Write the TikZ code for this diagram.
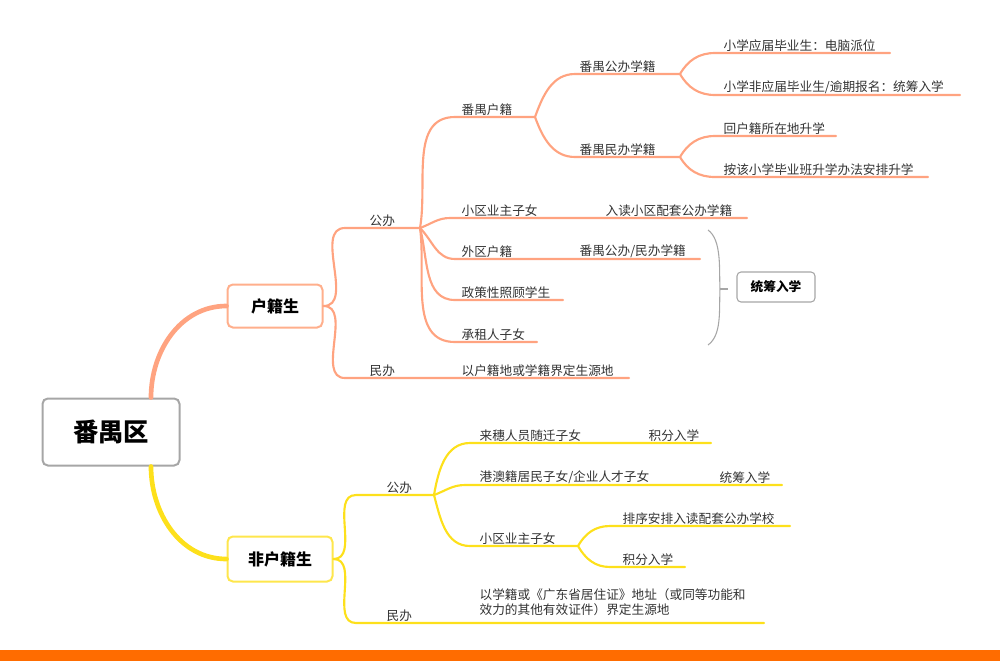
\documentclass[tikz,border=0pt]{standalone}
\usepackage{fontspec}
\setmainfont{Noto Sans CJK SC}
\begin{document}
\begin{tikzpicture}[x=0.75pt,y=-0.75pt,
  t/.style={anchor=south west,inner sep=1pt,font=\fontsize{9.5pt}{11pt}\selectfont,text=black!80},
  pk/.style={draw=red!45!orange!50!white,line width=1.6pt,line cap=round},
  yl/.style={draw=yellow!80!orange!90!white,line width=1.6pt,line cap=round},
  bx/.style={draw,rounded corners=4pt,line width=1.5pt,fill=white,font=\bfseries\fontsize{12pt}{14pt}\selectfont}]
\useasboundingbox (0,0) rectangle (1000,661);
\fill[orange!85!red] (0,650) rectangle (1000,661);
% root & level-1 nodes
\node[bx,draw=gray!70,minimum width=137*0.75pt,minimum height=67*0.75pt,font=\bfseries\fontsize{19pt}{22pt}\selectfont] (root) at (111,432) {番禺区};
\node[bx,draw=red!40!orange!45!white,minimum width=95*0.75pt,minimum height=43*0.75pt] (hj) at (275,306) {户籍生};
\node[bx,draw=yellow!80!orange!70!white,minimum width=105*0.75pt,minimum height=45*0.75pt] (fhj) at (280,559) {非户籍生};
\draw[pk,line width=3.5pt] (root.north)++(40,0) coordinate (r1) to[out=90,in=180] (hj.west);
\draw[yl,line width=3.5pt] (root.south)++(40,0) coordinate (r2) to[out=-90,in=180] (fhj.west);
% ---------- pink tree ----------
\coordinate (gbS) at (345,228); \coordinate (gbF) at (420,228);
\coordinate (mbS) at (345,378); \coordinate (mbE) at (629,378);
\draw[pk] (hj.east) to[out=0,in=180] (gbS) -- (gbF);
\draw[pk] (hj.east) to[out=0,in=180] (mbS) -- (mbE);
\node[t] (gb) at (368,228) {公办};
\node[t] (mb) at (368,378) {民办};
\node[t] (mbt) at (460,378) {以户籍地或学籍界定生源地};
% children of 公办
\coordinate (pyF) at (535,117);
\draw[pk] (gbF) to[out=80,in=180] (455,117) -- (pyF);
\node[t] (py) at (460,117) {番禺户籍};
\coordinate (xqE) at (747,218);
\draw[pk] (gbF) to[out=20,in=180] (450,218) -- (xqE);
\node[t] (xq) at (460,218) {小区业主子女};
\node[t] (xqt) at (604,218) {入读小区配套公办学籍};
\coordinate (wqE) at (700,259);
\draw[pk] (gbF) to[out=-45,in=180] (455,259) -- (wqE);
\node[t] (wq) at (460,259) {外区户籍};
\node[t] (wqt) at (578,259) {番禺公办/民办学籍};
\coordinate (zcE) at (563,300);
\draw[pk] (gbF) to[out=-75,in=180] (455,300) -- (zcE);
\node[t] (zc) at (460,300) {政策性照顾学生};
\coordinate (czE) at (537,342);
\draw[pk] (gbF) to[out=-82,in=180] (455,342) -- (czE);
\node[t] (cz) at (460,342) {承租人子女};
% 番禺户籍 children
\coordinate (gxF) at (680,74); \coordinate (mxF) at (680,157);
\draw[pk] (pyF) to[out=70,in=180] (575,74) -- (gxF);
\draw[pk] (pyF) to[out=-70,in=180] (575,157) -- (mxF);
\node[t] (gx) at (578,74) {番禺公办学籍};
\node[t] (mx) at (578,157) {番禺民办学籍};
\draw[pk] (gxF) to[out=60,in=180] (715,53) -- (890,53);
\draw[pk] (gxF) to[out=-60,in=180] (715,95) -- (960,95);
\draw[pk] (mxF) to[out=60,in=180] (715,136) -- (836,136);
\draw[pk] (mxF) to[out=-60,in=180] (715,177) -- (928,177);
\node[t] (l1) at (722,53) {小学应届毕业生：电脑派位};
\node[t] (l2) at (722,95) {小学非应届毕业生/逾期报名：统筹入学};
\node[t] (l3) at (722,136) {回户籍所在地升学};
\node[t] (l4) at (722,177) {按该小学毕业班升学办法安排升学};
% bracket
\coordinate (bk) at (728,289);
\draw[gray!70,line width=0.8pt] (708,230) .. controls (722,240) and (719,270) .. (720,289) .. controls (719,310) and (722,335) .. (708,345);
\draw[gray!70,line width=0.8pt] (720,289) -- (bk);
\node[draw=gray!70,rounded corners=3pt,line width=0.8pt,minimum width=78*0.75pt,minimum height=30*0.75pt,font=\bfseries\fontsize{9.5pt}{11pt}\selectfont] (tc) at (776,287) {统筹入学};
% ---------- yellow tree ----------
\coordinate (ygS) at (356,495); \coordinate (ygF) at (434,495);
\coordinate (ymS) at (356,623); \coordinate (ymE) at (764,623);
\draw[yl] (fhj.east) to[out=0,in=180] (ygS) -- (ygF);
\draw[yl] (fhj.east) to[out=0,in=180] (ymS) -- (ymE);
\node[t] (yg) at (385,495) {公办};
\node[t] (ym) at (385,623) {民办};
\node[t,align=left] (ymt) at (478,617) {以学籍或《广东省居住证》地址（或同等功能和\\效力的其他有效证件）界定生源地};
\draw[yl] (ygF) to[out=80,in=180] (470,443) -- (711,443);
\node[t] (y1) at (478,443) {来穗人员随迁子女};
\node[t] (y1b) at (647,443) {积分入学};
\draw[yl] (ygF) to[out=20,in=180] (465,485) -- (782,485);
\node[t] (y2) at (478,485) {港澳籍居民子女/企业人才子女};
\node[t] (y2b) at (718,485) {统筹入学};
\coordinate (y3F) at (578,546);
\draw[yl] (ygF) to[out=-75,in=180] (470,546) -- (y3F);
\node[t] (y3) at (478,546) {小区业主子女};
\draw[yl] (y3F) to[out=60,in=180] (610,526) -- (790,526);
\draw[yl] (y3F) to[out=-60,in=180] (610,567) -- (685,567);
\node[t] (y31) at (621,526) {排序安排入读配套公办学校};
\node[t] (y32) at (621,567) {积分入学};
\end{tikzpicture}
\end{document}
